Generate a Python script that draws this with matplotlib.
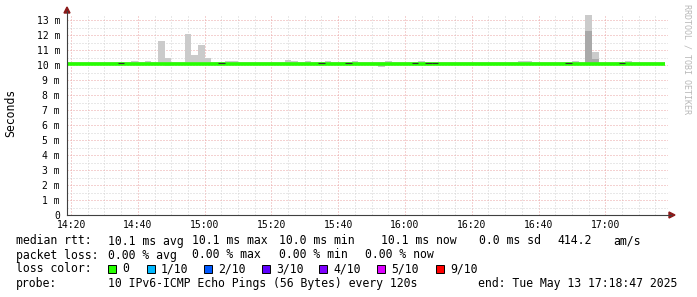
import numpy as np
import matplotlib
matplotlib.use('Agg')
import matplotlib.pyplot as plt
from matplotlib.lines import Line2D
from matplotlib.patches import Polygon, Rectangle
from matplotlib.ticker import MultipleLocator

# minutes after 14:00, bars are 2 minute rrd steps starting 14:18
t_start = 18.783
t_end = 198.783
bar_start = [18 + 2 * i for i in range(90)]

median_ms = [
    10.10, 10.10, 10.10, 10.10, 10.10, 10.10, 10.10, 10.10, 10.04, 10.08,
    10.10, 10.10, 10.10, 10.10, 10.10, 10.10, 10.10, 10.10, 10.10, 10.10,
    10.10, 10.10, 10.10, 10.04, 10.08, 10.10, 10.10, 10.10, 10.10, 10.10,
    10.10, 10.10, 10.10, 10.10, 10.10, 10.10, 10.10, 10.10, 10.04, 10.08,
    10.10, 10.10, 10.04, 10.10, 10.10, 10.10, 10.10, 10.10, 10.10, 10.10,
    10.10, 10.10, 10.04, 10.08, 10.06, 10.06, 10.10, 10.10, 10.10, 10.10,
    10.10, 10.10, 10.10, 10.10, 10.10, 10.10, 10.10, 10.10, 10.10, 10.10,
    10.10, 10.10, 10.10, 10.10, 10.10, 10.04, 10.08, 10.10, 10.10, 10.10,
    10.10, 10.10, 10.10, 10.04, 10.08, 10.10, 10.10, 10.10, 10.10, 10.10,
]
smoke_hi = [
    10.18, 10.18, 10.18, 10.18, 10.18, 10.18, 10.18, 10.18, 10.18, 10.22,
    10.28, 10.18, 10.28, 10.18, 11.60, 10.50, 10.18, 10.18, 12.05, 10.70,
    11.35, 10.50, 10.18, 10.18, 10.26, 10.30, 10.18, 10.18, 10.18, 10.18,
    10.18, 10.18, 10.18, 10.34, 10.28, 10.18, 10.28, 10.18, 10.18, 10.26,
    10.18, 10.18, 10.18, 10.30, 10.18, 10.18, 10.18, 10.18, 10.30, 10.18,
    10.18, 10.18, 10.18, 10.30, 10.18, 10.18, 10.18, 10.18, 10.18, 10.18,
    10.18, 10.18, 10.18, 10.18, 10.18, 10.18, 10.18, 10.18, 10.28, 10.28,
    10.18, 10.18, 10.18, 10.18, 10.18, 10.18, 10.28, 10.18, 13.35, 10.85,
    10.18, 10.18, 10.18, 10.18, 10.28, 10.18, 10.18, 10.18, 10.18, 10.18,
]
smoke_lo = [
    10.02, 10.02, 10.02, 10.02, 10.02, 10.02, 9.98, 9.98, 10.02, 10.02,
    10.02, 10.02, 10.02, 10.02, 10.02, 9.96, 10.02, 9.97, 10.02, 10.02,
    10.02, 10.02, 10.02, 10.02, 10.02, 10.02, 10.02, 10.02, 10.02, 9.97,
    10.02, 10.02, 10.02, 10.02, 10.02, 10.02, 10.02, 10.02, 10.02, 10.02,
    10.02, 10.02, 10.02, 10.02, 10.02, 10.02, 10.02, 9.90, 10.02, 10.02,
    10.02, 10.02, 10.02, 10.02, 10.02, 10.02, 10.02, 10.02, 10.02, 10.02,
    9.97, 9.97, 10.02, 10.02, 10.02, 10.02, 10.02, 10.02, 10.02, 10.02,
    10.02, 10.02, 10.02, 10.02, 10.02, 10.02, 10.02, 10.02, 10.02, 10.02,
    10.02, 10.02, 10.02, 10.02, 10.02, 10.02, 10.02, 10.02, 10.02, 10.02,
]
# darker inner smoke (only visible on the big 16:54 spike)
dark_hi = [
    10.10, 10.10, 10.10, 10.10, 10.10, 10.10, 10.10, 10.10, 10.10, 10.10,
    10.10, 10.10, 10.10, 10.10, 10.10, 10.10, 10.10, 10.10, 10.10, 10.10,
    10.10, 10.10, 10.10, 10.10, 10.10, 10.10, 10.10, 10.10, 10.10, 10.10,
    10.10, 10.10, 10.10, 10.10, 10.10, 10.10, 10.10, 10.10, 10.10, 10.10,
    10.10, 10.10, 10.10, 10.10, 10.10, 10.10, 10.10, 10.10, 10.10, 10.10,
    10.10, 10.10, 10.10, 10.10, 10.10, 10.10, 10.10, 10.10, 10.10, 10.10,
    10.10, 10.10, 10.10, 10.10, 10.10, 10.10, 10.10, 10.10, 10.10, 10.10,
    10.10, 10.10, 10.10, 10.10, 10.10, 10.10, 10.10, 10.10, 12.30, 10.40,
    10.10, 10.10, 10.10, 10.10, 10.10, 10.10, 10.10, 10.10, 10.10, 10.10,
]

x_ticks = [20, 40, 60, 80, 100, 120, 140, 160, 180]
x_labels = ['14:20', '14:40', '15:00', '15:20', '15:40', '16:00', '16:20', '16:40', '17:00']
y_ticks = list(range(14))
y_labels = ['0'] + ['%d m' % v for v in range(1, 14)]

loss_labels = ['0', '1/10', '2/10', '3/10', '4/10', '5/10', '9/10']
loss_colors = ['#26ff00', '#00b8ff', '#0059ff', '#5e00ff', '#7e00ff', '#dd00ff', '#ff0000']

W, H = 697, 297
def px(x, y):
    return (x / W, 1 - y / H)

mono = 'DejaVu Sans Mono'
fig = plt.figure(figsize=(W / 100, H / 100), dpi=100)
ax = fig.add_axes([67 / W, (H - 215) / H, 601 / W, 201 / H])
ax.set_xlim(t_start, t_end)
ax.set_ylim(0, 13.4)

# grid
ax.xaxis.set_major_locator(MultipleLocator(20))
ax.xaxis.set_minor_locator(MultipleLocator(5))
ax.yaxis.set_major_locator(MultipleLocator(1))
ax.yaxis.set_minor_locator(MultipleLocator(0.5))
ax.grid(which='minor', color='#d2d2d2', linewidth=0.72, linestyle=(0, (1, 2)))
ax.grid(which='major', color='#eaa4a4', linewidth=0.72, linestyle=(0, (1, 2)))
ax.set_axisbelow(True)

# smoke
lo = np.array(smoke_lo)
hi = np.array(smoke_hi)
ax.bar(bar_start, hi - lo, bottom=lo, width=2, align='edge', color='#cbcbcb', linewidth=0, zorder=2)
dh = np.array(dark_hi)
ax.bar(bar_start, dh - 10.15, bottom=10.15, width=2, align='edge', color='#a9a9a9', linewidth=0, zorder=2)

# median line
edges = bar_start + [bar_start[-1] + 2]
med = median_ms + [median_ms[-1]]
ax.step(edges, med, where='post', color='#26ff00', linewidth=2.6, zorder=3, solid_capstyle='butt')
for i, m in enumerate(median_ms):
    if m < 10.07:
        ax.hlines(m + 0.1, bar_start[i], bar_start[i] + 2, color='#303030', linewidth=0.8, zorder=4)

ax.set_xticks(x_ticks)
ax.set_xticklabels(x_labels, fontfamily=mono, fontsize=7)
ax.set_yticks(y_ticks)
ax.set_yticklabels(y_labels, fontfamily=mono, fontsize=7)
ax.tick_params(which='both', length=0)
ax.tick_params(axis='x', pad=3.5)
ax.tick_params(axis='y', pad=5)
for s in ax.spines.values():
    s.set_visible(False)

# axes lines with arrows
fig.add_artist(Line2D([px(67, 0)[0], px(67, 0)[0]], [px(0, 215)[1], px(0, 11)[1]], color='#404040', linewidth=0.8))
fig.add_artist(Line2D([px(67, 0)[0], px(671, 0)[0]], [px(0, 215)[1], px(0, 215)[1]], color='#404040', linewidth=0.8))
fig.add_artist(Polygon([px(64, 13), px(70, 13), px(67, 7)], closed=True, color='#8b1a1a'))
fig.add_artist(Polygon([px(669, 212), px(669, 218), px(675, 215)], closed=True, color='#8b1a1a'))

fig.text(*px(11, 113), 'Seconds', rotation=90, ha='center', va='center', fontfamily=mono, fontsize=8.3)
fig.text(*px(687, 4), 'RRDTOOL / TOBI OETIKER', rotation=270, ha='center', va='top',
         fontfamily=mono, fontsize=6, color='#b8b8b8')

fs = 8.3
def put(x, y, s):
    fig.text(*px(x, y), s, ha='left', va='center', fontfamily=mono, fontsize=fs)

put(16, 241, 'median rtt:')
put(107.5, 241, '10.1 ms avg')
put(192.5, 241, '10.1 ms max')
put(279, 241, '10.0 ms min')
put(381, 241, '10.1 ms now')
put(479, 241, '0.0 ms sd')
put(557, 241, '414.2')
put(613, 241, 'am/s')

put(16, 255, 'packet loss:')
put(107.5, 255, '0.00 % avg')
put(192.5, 255, '0.00 % max')
put(279, 255, '0.00 % min')
put(365, 255, '0.00 % now')

put(16, 269, 'loss color:')
box_x = [108, 147, 204, 262, 319, 377, 436]
for bx, lab, col in zip(box_x, loss_labels, loss_colors):
    fig.add_artist(Rectangle(px(bx, 273), 8 / W, 8 / H, facecolor=col, edgecolor='black', linewidth=0.7))
    put(bx + 14, 269, lab)

put(16, 283, 'probe:')
put(107.5, 283, '10 IPv6-ICMP Echo Pings (56 Bytes) every 120s')
put(478, 283, 'end: Tue May 13 17:18:47 2025')

fig.savefig('out.png', dpi=100, facecolor='white')
